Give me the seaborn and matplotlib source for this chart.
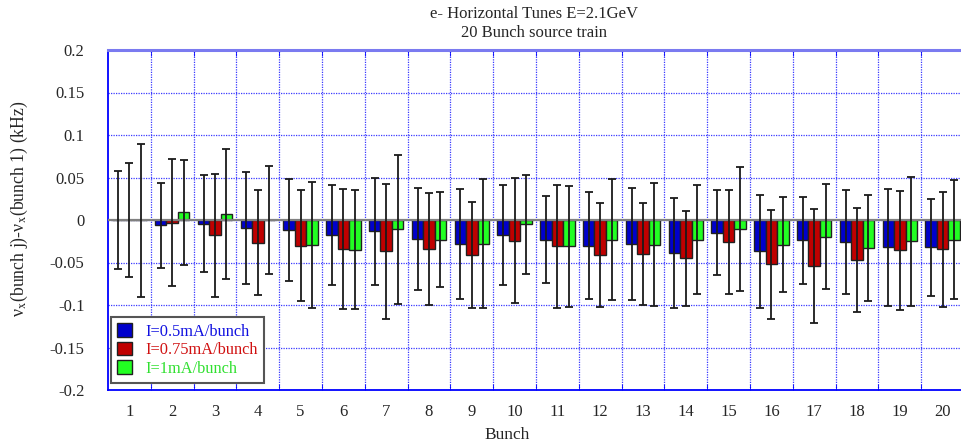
import numpy as np
import pandas as pd
import matplotlib
matplotlib.use("Agg")
import matplotlib.pyplot as plt
import seaborn as sns
from matplotlib.ticker import FixedLocator

# ---------------- data ----------------
bunches = [str(i) for i in range(1, 21)]
series_names = ["I=0.5mA/bunch", "I=0.75mA/bunch", "I=1mA/bunch"]

vals_05 = [0.0, -0.006, -0.0045, -0.009, -0.012, -0.018, -0.0135, -0.022, -0.0285, -0.018,
           -0.023, -0.030, -0.0285, -0.039, -0.015, -0.037, -0.024, -0.026, -0.032, -0.032]
err_05 = [0.058, 0.050, 0.057, 0.066, 0.060, 0.059, 0.063, 0.060, 0.065, 0.059,
          0.051, 0.0625, 0.066, 0.065, 0.050, 0.067, 0.051, 0.061, 0.069, 0.057]

vals_075 = [0.0, -0.003, -0.018, -0.0265, -0.030, -0.034, -0.037, -0.034, -0.041, -0.0245,
            -0.031, -0.041, -0.040, -0.045, -0.026, -0.052, -0.054, -0.047, -0.0355, -0.0345]
err_075 = [0.067, 0.075, 0.072, 0.062, 0.065, 0.071, 0.079, 0.066, 0.062, 0.0735,
           0.072, 0.061, 0.060, 0.056, 0.061, 0.064, 0.067, 0.061, 0.070, 0.0675]

vals_1 = [0.0, 0.009, 0.007, 0.0, -0.029, -0.035, -0.011, -0.023, -0.028, -0.005,
          -0.031, -0.023, -0.029, -0.023, -0.011, -0.029, -0.0195, -0.033, -0.025, -0.023]
err_1 = [0.090, 0.062, 0.076, 0.064, 0.074, 0.070, 0.088, 0.056, 0.076, 0.058,
         0.071, 0.0715, 0.072, 0.064, 0.073, 0.056, 0.0615, 0.062, 0.076, 0.070]

ytick_vals = [-0.2, -0.15, -0.1, -0.05, 0.0, 0.05, 0.1, 0.15, 0.2]
ytick_labels = ["-0.2", "-0.15", "-0.1", "-0.05", "0", "0.05", "0.1", "0.15", "0.2"]

title_line1 = "e- Horizontal Tunes E=2.1GeV"
title_line2 = "20 Bunch source train"
xlabel = "Bunch"
ylabel = "ν$_{\\mathrm{x}}$(bunch j)-ν$_{\\mathrm{x}}$(bunch 1) (kHz)"

colors = ["#0000CC", "#C00000", "#22FF22"]
text_colors = ["#1010E0", "#D01010", "#30E030"]

all_vals = [vals_05, vals_075, vals_1]
all_errs = [err_05, err_075, err_1]

df = pd.DataFrame({
    "Bunch": bunches * 3,
    "Current": [s for s in series_names for _ in bunches],
    "value": vals_05 + vals_075 + vals_1,
})

# ---------------- style ----------------
sns.set_style("white")
plt.rcParams["font.family"] = ["Liberation Serif", "DejaVu Serif"]
plt.rcParams["mathtext.fontset"] = "stix"

fig = plt.figure(figsize=(9.61, 4.46), dpi=100)
ax = fig.add_axes([108 / 961, 1 - 390 / 446, 856 / 961, 340 / 446])

sns.barplot(data=df, x="Bunch", y="value", hue="Current", order=bunches,
            hue_order=series_names, palette=colors, errorbar=None,
            saturation=1, width=0.8, edgecolor="#202020", linewidth=1.0,
            ax=ax, zorder=3)

# error bars centered on each bar
for cont, vals, errs in zip(ax.containers, all_vals, all_errs):
    xs = [b.get_x() + b.get_width() / 2 for b in cont]
    ax.errorbar(xs, vals, yerr=errs, fmt="none", ecolor="#1a1a1a",
                elinewidth=1.3, capsize=2.8, capthick=1.3, zorder=4)

ax.axhline(0, color="#808080", lw=1.6, zorder=3.5)

ax.set_xlim(-0.5, len(bunches) - 0.5)
ax.set_ylim(-0.2, 0.2)
ax.set_yticks(ytick_vals)
ax.set_yticklabels(ytick_labels)
ax.xaxis.set_minor_locator(FixedLocator(np.arange(0.5, len(bunches) - 0.5, 1.0)))

ax.grid(False)
ax.grid(True, axis="y", which="major", color="#3a3aff", ls=(0, (1, 1)), lw=0.9, zorder=0)
ax.grid(True, axis="x", which="minor", color="#3a3aff", ls=(0, (1, 1)), lw=0.9, zorder=0)
ax.set_axisbelow(True)

ax.tick_params(axis="x", which="major", length=0, pad=10, labelsize=12)
ax.tick_params(axis="x", which="minor", direction="in", length=4, color="#0000ff",
               top=True, bottom=True)
ax.tick_params(axis="y", which="major", direction="in", length=4, color="#0000ff",
               pad=17, labelsize=12)

for side in ["left", "bottom"]:
    ax.spines[side].set_color("#0000ff")
    ax.spines[side].set_linewidth(1.3)
ax.spines["top"].set_color("#7a7af0")
ax.spines["top"].set_linewidth(2.2)
ax.spines["right"].set_color("#0000ff")

ax.set_xlabel("")
ax.set_ylabel(ylabel, fontsize=12.8)
ax.yaxis.set_label_coords(-0.091, 0.532)
fig.text(507 / 961, 1 - 439 / 446, xlabel, ha="center", va="baseline", fontsize=12.5)

fig.text(534 / 961, 1 - 14 / 446, title_line1, ha="center", va="center", fontsize=12)
fig.text(534 / 961, 1 - 33 / 446, title_line2, ha="center", va="center", fontsize=12)

handles, labels = ax.get_legend_handles_labels()
leg = ax.legend(handles, labels, loc="lower left", bbox_to_anchor=(0.003, 0.02),
                borderaxespad=0, fontsize=11.8, frameon=True, fancybox=False,
                framealpha=1, edgecolor="#555555", labelcolor=text_colors,
                handlelength=0.9, handleheight=0.9, handletextpad=0.8,
                labelspacing=0.12, borderpad=0.4)
leg.get_frame().set_linewidth(1.5)
leg.set_zorder(10)

fig.savefig("out.png", dpi=100)
